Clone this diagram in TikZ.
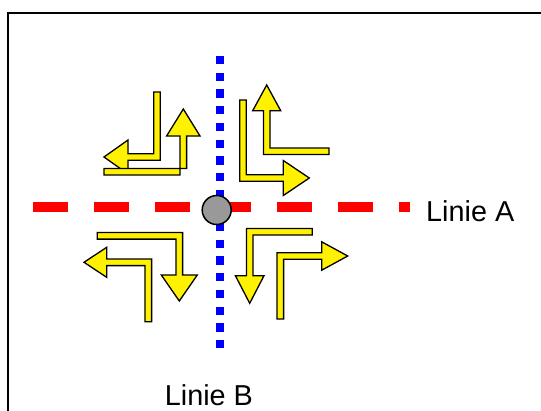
\documentclass[tikz,border=0pt]{standalone}
\usepackage{fontspec}
\setmainfont{Liberation Sans}
\begin{document}
\begin{tikzpicture}[x=1pt, y=-1pt,
  frame/.style={draw=black, line width=2pt},
  turnarrow/.style={fill=yellow, draw=black, line width=1.3pt, line join=miter},
  lineA/.style={draw=red, line width=10pt, dash pattern=on 35pt off 26pt},
  lineB/.style={draw=blue, line width=8pt, dash pattern=on 8.3pt off 8.4pt},
  hub/.style={circle, fill=black!40, draw=black, line width=1.5pt, minimum size=29pt, inner sep=0pt},
  label/.style={anchor=base west, inner sep=0pt, font=\fontsize{28.8}{34}\selectfont}]
\useasboundingbox (0,0) rectangle (541,410);
\begin{scope}
\clip (0,0) rectangle (541,410);
% outer frame (runs past the right and bottom edges)
\draw[frame] (8,13) rectangle (560,430);
\end{scope}

% axis lines
\draw[lineA] (33,206.5) -- (410,206.5);
\draw[lineB] (220,56) -- (220,354);

% top-left: left turn and up turn
\draw[turnarrow] (153.7,92) -- (160.3,92) -- (160.3,160.3) -- (128,160.3) -- (128,174)
  -- (104,157) -- (128,140) -- (128,153.7) -- (153.7,153.7) -- cycle;
\draw[turnarrow] (104,168.4) -- (186.6,168.4) -- (186.6,136) -- (200,136)
  -- (183.3,109) -- (166.6,136) -- (180,136) -- (180,175) -- (104,175) -- cycle;

% top-right: up turn and right turn
\draw[turnarrow] (329,147.9) -- (329,154.5) -- (263.4,154.5) -- (263.4,110.7) -- (252.7,110.7)
  -- (266.7,85) -- (280.7,110.7) -- (270,110.7) -- (270,147.9) -- cycle;
\draw[turnarrow] (239.7,100) -- (246.3,100) -- (246.3,174.7) -- (283.3,174.7) -- (283.3,160.5)
  -- (309.3,178) -- (283.3,195.5) -- (283.3,181.3) -- (239.7,181.3) -- cycle;

% bottom-left: down turn and left turn
\draw[turnarrow] (97.3,232.5) -- (182.6,232.5) -- (182.6,275) -- (197.3,275)
  -- (179.3,301) -- (161.3,275) -- (176,275) -- (176,239.1) -- (97.3,239.1) -- cycle;
\draw[turnarrow] (145,321.7) -- (151.6,321.7) -- (151.6,259) -- (106.7,259) -- (106.7,247.3)
  -- (84,262.3) -- (106.7,277.3) -- (106.7,265.6) -- (145,265.6) -- cycle;

% bottom-right: down turn and right turn
\draw[turnarrow] (312.3,228.4) -- (312.3,235) -- (253,235) -- (253,275.7) -- (264,275.7)
  -- (249.7,303.3) -- (235.4,275.7) -- (246.4,275.7) -- (246.4,228.4) -- cycle;
\draw[turnarrow] (277,319) -- (283.6,319) -- (283.6,259.3) -- (321.7,259.3) -- (321.7,270.2)
  -- (347.7,256) -- (321.7,241.8) -- (321.7,252.7) -- (277,252.7) -- cycle;

% crossing point
\node[hub] (hub) at (216.7,210) {};

% labels
\node[label] (linieA) at (426,221) {Linie A};
\node[label] (linieB) at (164.7,405.5) {Linie B};
\end{tikzpicture}
\end{document}
